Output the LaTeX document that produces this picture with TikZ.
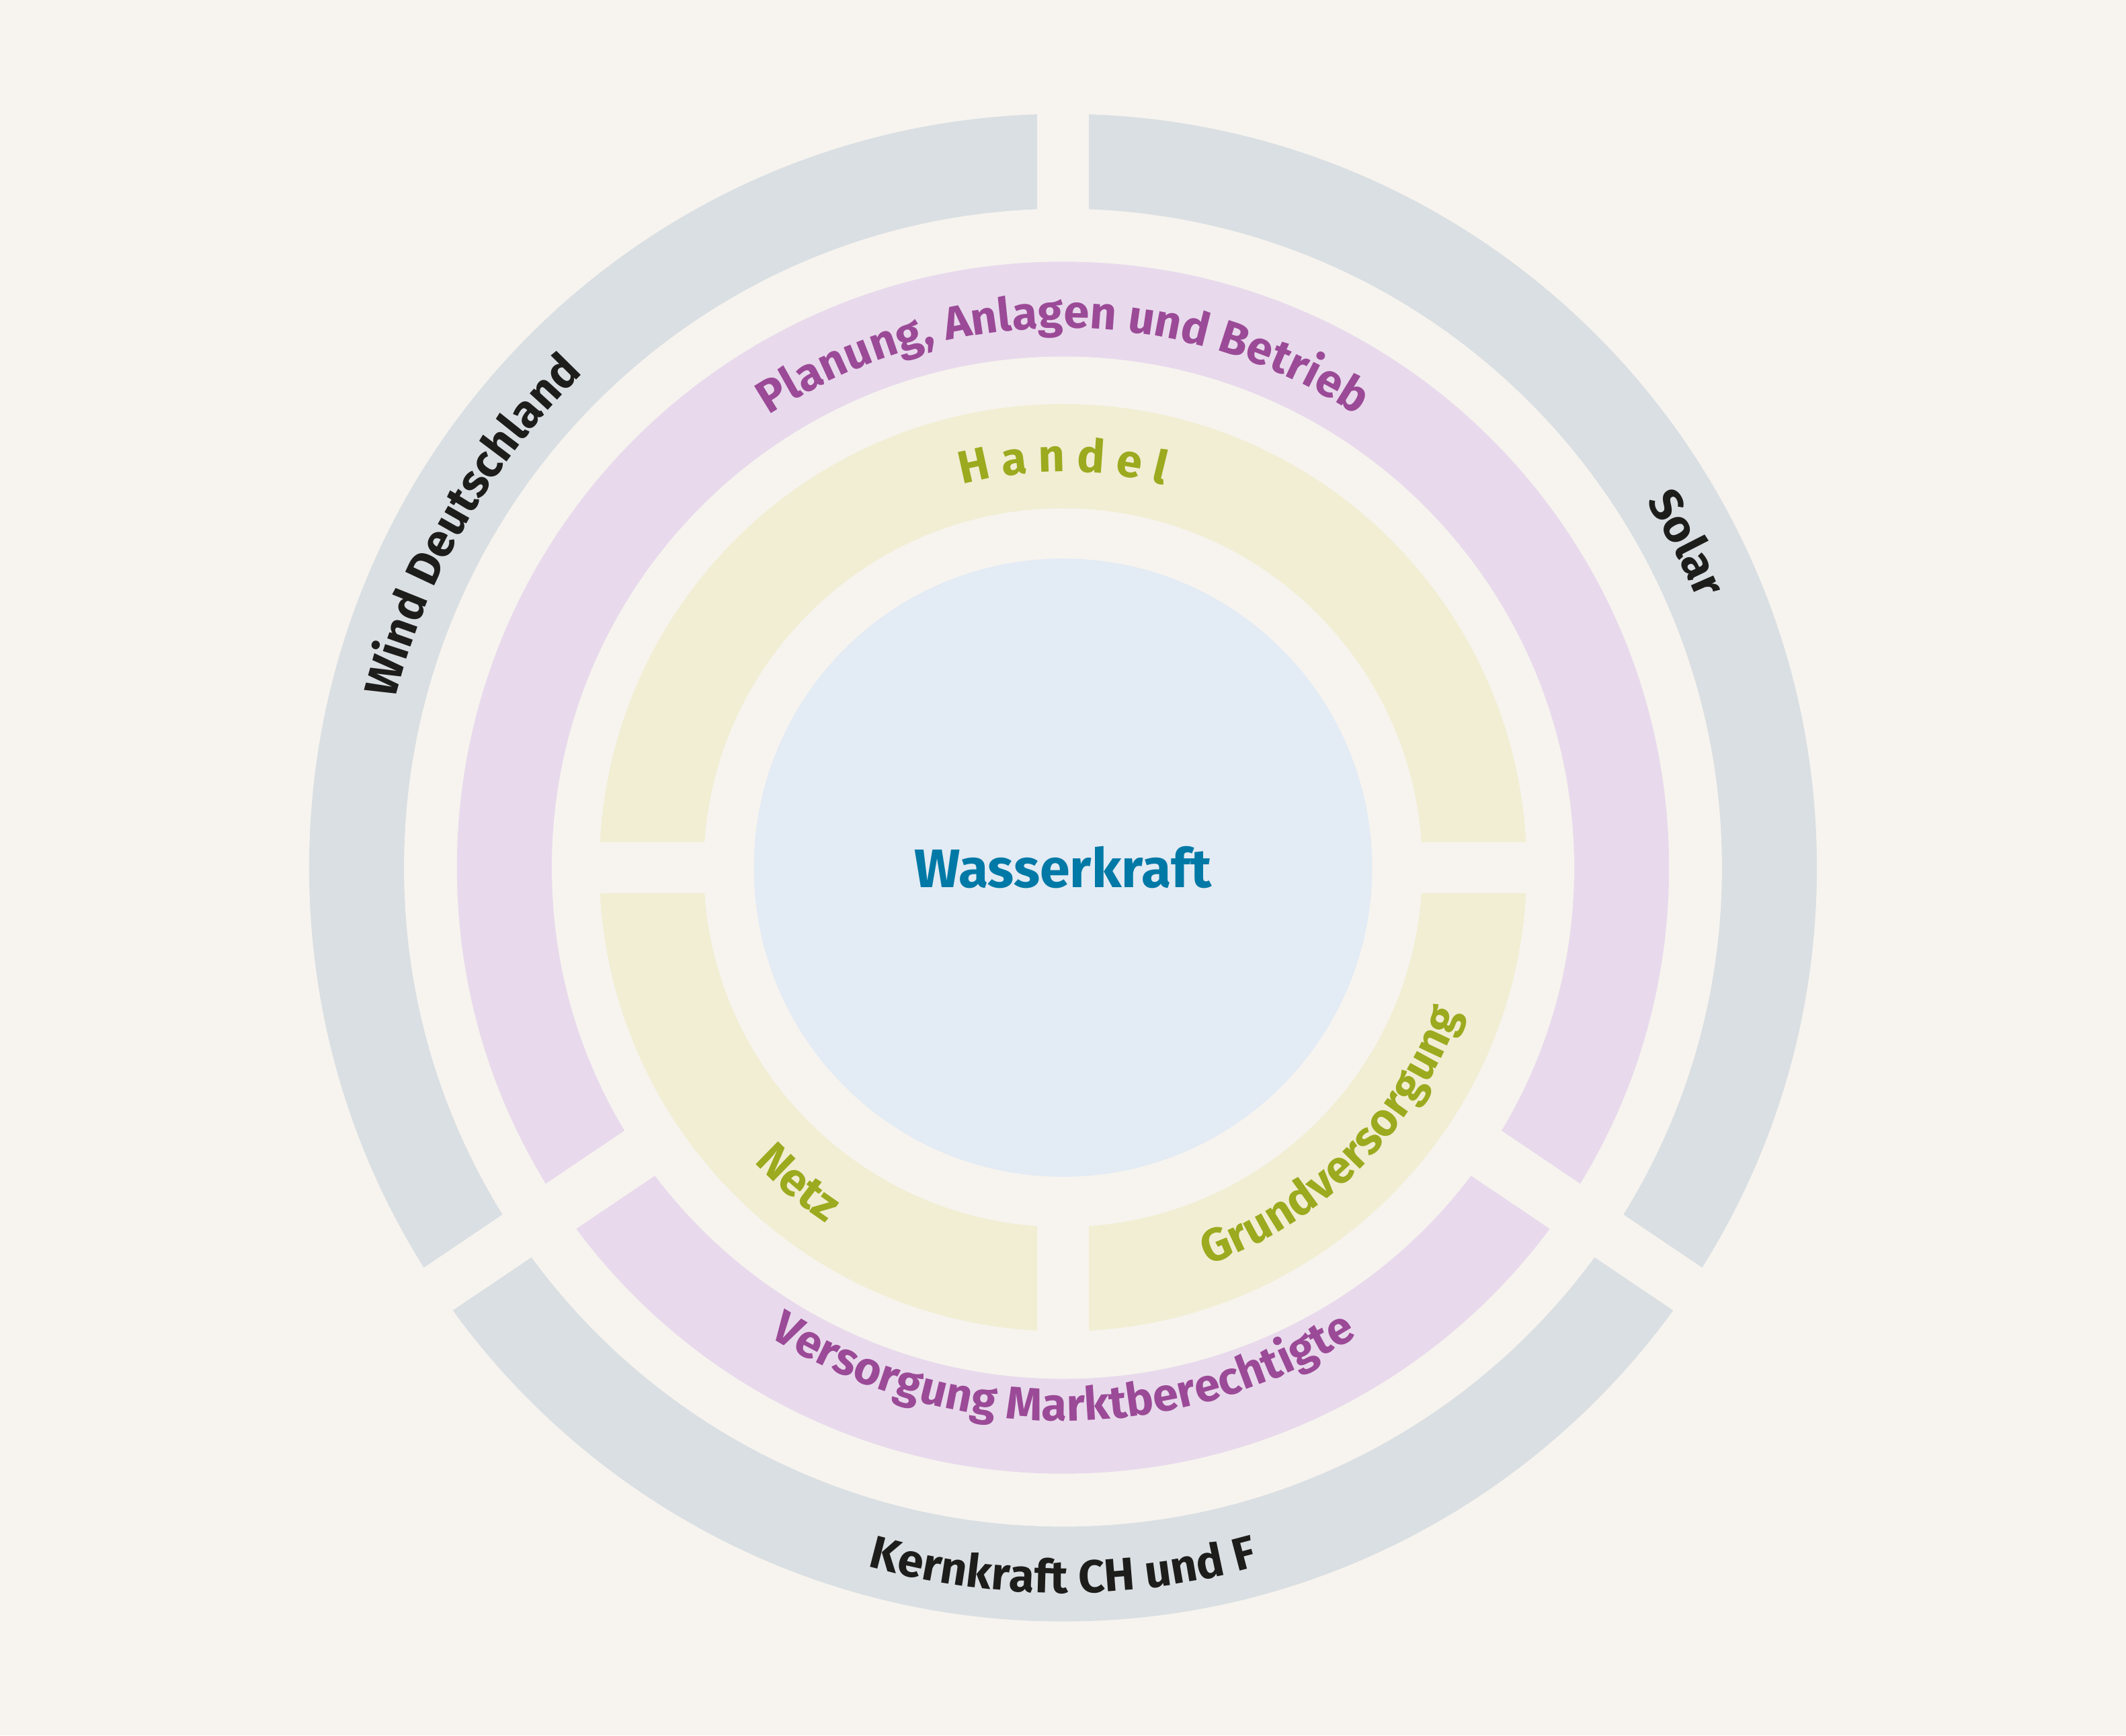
\documentclass[tikz,border=0pt]{standalone}
\usepackage{fontspec}
\setmainfont{Fira Sans}
\usetikzlibrary{decorations.text}
\definecolor{bg}{HTML}{F7F4EF}
\definecolor{gring}{HTML}{DADFE3}
\definecolor{pring}{HTML}{E8DAEC}
\definecolor{yring}{HTML}{F1EED4}
\definecolor{bcirc}{HTML}{E3EBF4}
\definecolor{ptext}{HTML}{9B4A97}
\definecolor{ytext}{HTML}{9BAA1E}
\definecolor{btext}{HTML}{0079A6}
\definecolor{ktext}{HTML}{1D1D1B}
\newcommand\mypf{\fontsize{34}{40}\selectfont\bfseries\color{ptext}}
\newcommand\myyf{\fontsize{34}{40}\selectfont\bfseries\color{ytext}}
\newcommand\mykf{\fontsize{34}{40}\selectfont\bfseries\color{ktext}}
\tikzset{cut/.style={draw=bg,line width=38pt},
 curved/.style={decorate,decoration={text along path,text align=center,text={#1}}}}
\begin{document}
\begin{tikzpicture}[x=1pt,y=1pt]
\fill[bg] (-784,-640) rectangle (784,640);
\useasboundingbox (-784,-640) rectangle (784,640);
% gray ring
\fill[gring] (0,0) circle (556);
\fill[bg] (0,0) circle (486);
\foreach \a in {90,-146,-34} \draw[cut] (\a:478) -- (\a:565);
% purple ring
\fill[pring] (0,0) circle (447);
\fill[bg] (0,0) circle (377);
\foreach \a in {-146,-34} \draw[cut,line width=40pt] (\a:370) -- (\a:455);
% yellow ring
\fill[yring] (0,0) circle (342);
\fill[bg] (0,0) circle (265);
\draw[cut] (-350,0) -- (350,0);
\draw[cut] (0,0) -- (0,-350);
% centre
\fill[bcirc] (0,0) circle (228);
\node[font=\fontsize{40}{46}\selectfont\bfseries,text=btext] (center) at (0,0) {Wasserkraft};
% curved labels
\path[curved={|\mypf|Planung{,} Anlagen und Betrieb}] (150:398) arc[start angle=150,end angle=30,radius=398];
\path[curved={|\myyf|H a n d e l}] (130:292) arc[start angle=130,end angle=50,radius=292];
\path[curved={|\mykf|Wind Deutschland}] (185:508) arc[start angle=185,end angle=115,radius=508];
\path[curved={|\mykf|Solar}] (50:508) arc[start angle=50,end angle=5,radius=508];
\path[curved={|\mykf|Kernkraft CH und F}] (-130:535) arc[start angle=-130,end angle=-50,radius=535];
\path[curved={|\mypf|Versorgung Marktberechtigte}] (-140:408) arc[start angle=-140,end angle=-40,radius=408];
\path[curved={|\myyf|Netz}] (-155:315) arc[start angle=-155,end angle=-105,radius=315];
\path[curved={|\myyf|Grundversorgung}] (-85:312) arc[start angle=-85,end angle=-5,radius=312];
\end{tikzpicture}
\end{document}
